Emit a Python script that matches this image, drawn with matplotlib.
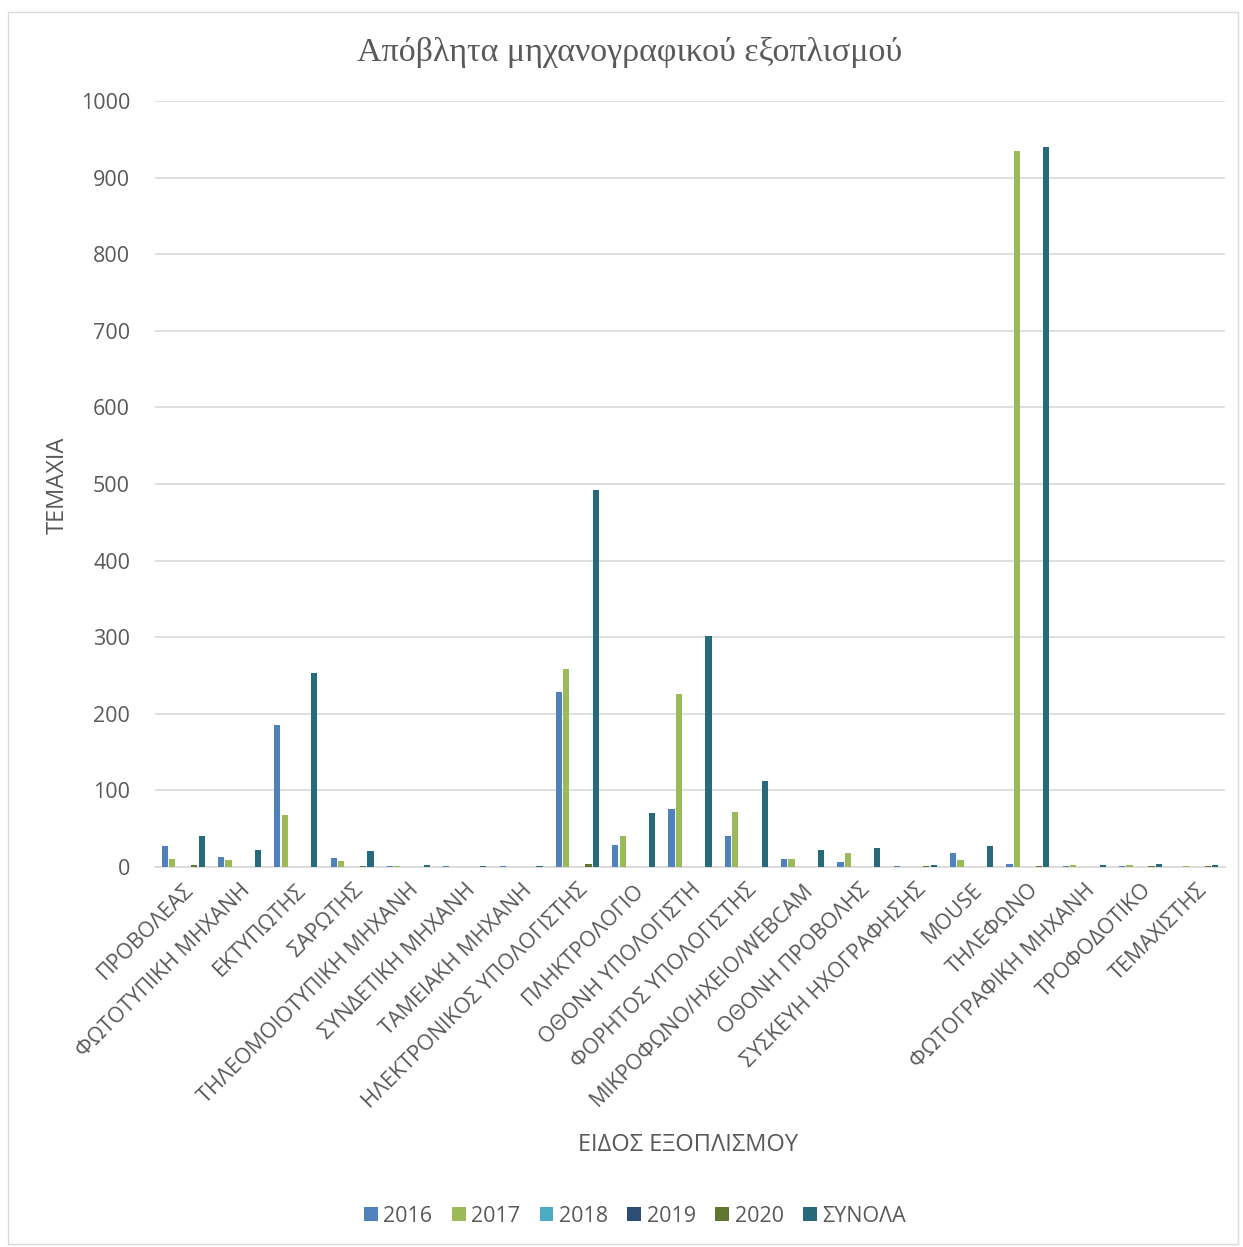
'''Απόβλητα μηχανογραφικού εξοπλισμού - grouped bar chart'''

import numpy as np
import matplotlib.pyplot as plt
from matplotlib.patches import Rectangle

categories = ['ΠΡΟΒΟΛΕΑΣ', 'ΦΩΤΟΤΥΠΙΚΗ ΜΗΧΑΝΗ', 'ΕΚΤΥΠΩΤΗΣ', 'ΣΑΡΩΤΗΣ',
              'ΤΗΛΕΟΜΟΙΟΤΥΠΙΚΗ ΜΗΧΑΝΗ', 'ΣΥΝΔΕΤΙΚΗ ΜΗΧΑΝΗ', 'ΤΑΜΕΙΑΚΗ ΜΗΧΑΝΗ',
              'ΗΛΕΚΤΡΟΝΙΚΟΣ ΥΠΟΛΟΓΙΣΤΗΣ', 'ΠΛΗΚΤΡΟΛΟΓΙΟ', 'ΟΘΟΝΗ ΥΠΟΛΟΓΙΣΤΗ',
              'ΦΟΡΗΤΟΣ ΥΠΟΛΟΓΙΣΤΗΣ', 'ΜΙΚΡΟΦΩΝΟ/ΗΧΕΙΟ/WEBCAM', 'ΟΘΟΝΗ ΠΡΟΒΟΛΗΣ',
              'ΣΥΣΚΕΥΗ ΗΧΟΓΡΑΦΗΣΗΣ', 'MOUSE', 'ΤΗΛΕΦΩΝΟ', 'ΦΩΤΟΓΡΑΦΙΚΗ ΜΗΧΑΝΗ',
              'ΤΡΟΦΟΔΟΤΙΚΟ', 'ΤΕΜΑΧΙΣΤΗΣ']

v2016 = [27, 13, 185, 12, 1, 1, 1, 229, 29, 76, 40, 11, 7, 1, 18, 4, 1, 1, 0]
v2017 = [11, 9, 68, 8, 1, 0, 0, 259, 41, 226, 72, 11, 18, 0, 9, 935, 2, 2, 1]
v2018 = [0] * 19
v2019 = [0] * 19
v2020 = [3, 0, 0, 1, 0, 0, 0, 4, 0, 0, 0, 0, 0, 1, 0, 1, 0, 1, 1]
totals = [41, 22, 253, 21, 2, 1, 1, 492, 70, 302, 112, 22, 25, 2, 27, 940, 3, 4, 2]

series_names = ['2016', '2017', '2018', '2019', '2020', 'ΣΥΝΟΛΑ']
colors = ['#4F81BD', '#9BBB59', '#4BACC6', '#2C4D75', '#5F7530', '#276A7C']

plt.rcParams['font.family'] = ['Open Sans', 'DejaVu Sans']
text_col = '#595959'

fig = plt.figure(figsize=(12.43, 12.47), dpi=100)
fig.patches.append(Rectangle((8 / 1243, 1 - 1244 / 1247), 1230 / 1243, 1232 / 1247,
                             transform=fig.transFigure, fill=False,
                             edgecolor='#D9D9D9', linewidth=1))

ax = fig.add_axes([155 / 1243, 1 - 867 / 1247, 1070 / 1243, 766 / 1247])

x = np.arange(len(categories))
pitch = 0.131
all_series = [v2016, v2017, v2018, v2019, v2020, totals]
for i, (vals, name, c) in enumerate(zip(all_series, series_names, colors)):
    ax.bar(x + (i - 2.5) * pitch, vals, width=0.11, color=c, label=name, zorder=3)

ax.set_xlim(-0.5, len(categories) - 0.5)
ax.set_ylim(0, 1000)
ax.set_yticks(range(0, 1001, 100))
ax.yaxis.grid(True, color='#D9D9D9', linewidth=1.2, zorder=0)
ax.set_axisbelow(True)
for s in ['top', 'right', 'left']:
    ax.spines[s].set_visible(False)
ax.spines['bottom'].set_color('#D9D9D9')
ax.spines['bottom'].set_linewidth(1.2)
ax.tick_params(axis='both', length=0, colors=text_col, labelsize=15.5)
ax.tick_params(axis='y', pad=18)
ax.tick_params(axis='x', pad=9)

ax.set_xticks(x)
ax.set_xticklabels(categories, rotation=45, ha='right', rotation_mode='anchor',
                   fontsize=15.5, color=text_col)

# axis titles
fig.text(58 / 1243, 1 - 485 / 1247, 'ΤΕΜΑΧΙΑ', rotation=90, ha='center', va='center',
         fontsize=17, color=text_col)
fig.text(688 / 1243, 1 - 1145 / 1247, 'ΕΙΔΟΣ ΕΞΟΠΛΙΣΜΟΥ', ha='center', va='center',
         fontsize=17, color=text_col)
fig.text(630 / 1243, 1 - 52 / 1247, 'Απόβλητα μηχανογραφικού εξοπλισμού',
         ha='center', va='center', fontsize=24.5, color=text_col,
         family=['Liberation Serif', 'DejaVu Serif'])

handles, labels = ax.get_legend_handles_labels()
fig.legend(handles, labels, loc='center', bbox_to_anchor=(635 / 1243, 1 - 1216 / 1247),
           ncol=6, frameon=False, fontsize=15.5, labelcolor=text_col,
           handlelength=0.65, handleheight=0.65, handletextpad=0.25, columnspacing=0.9)

fig.savefig('out.png', dpi=100)
